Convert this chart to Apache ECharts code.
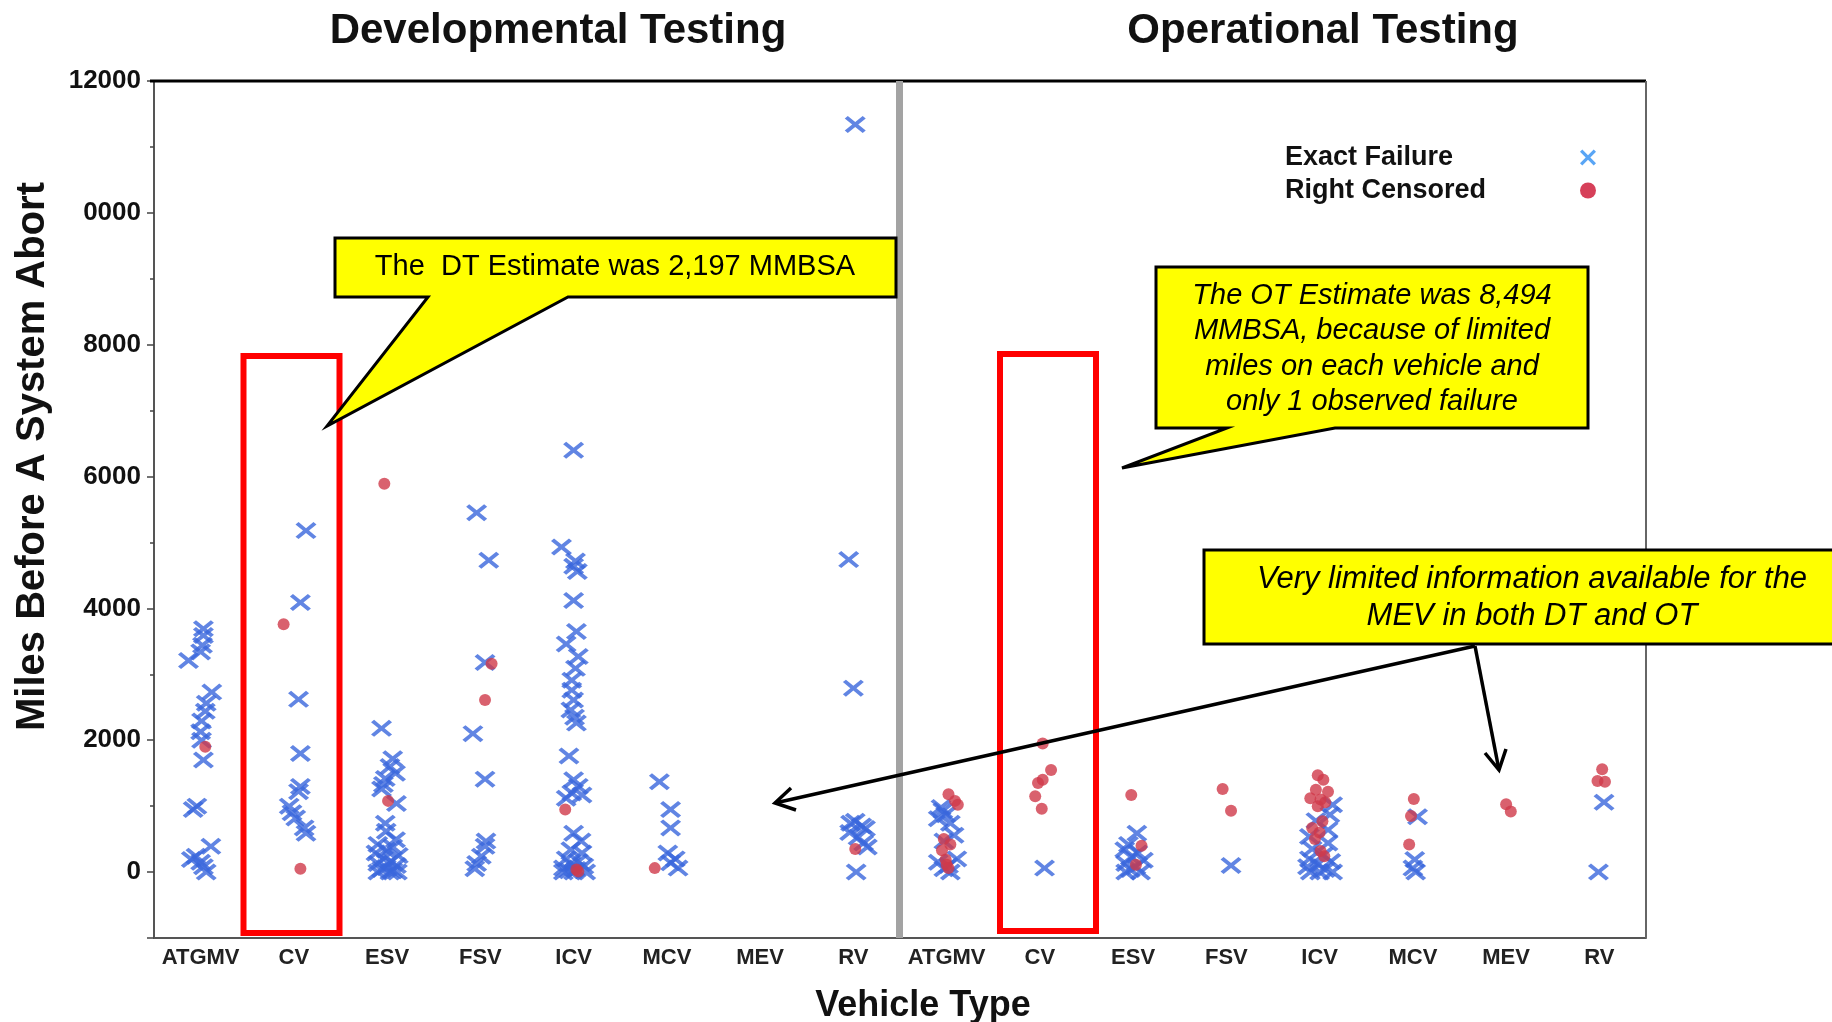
<!DOCTYPE html>
<html>
<head>
<meta charset="utf-8">
<script src="https://cdn.jsdelivr.net/npm/echarts@6/dist/echarts.min.js"></script>
<style>
html,body{margin:0;padding:0;background:#ffffff;}
#chart{width:1832px;height:1022px;}
</style>
</head>
<body>
<div id="chart"></div>
<script>
// ---------------- DATA ----------------
const vehicleTypes = ['ATGMV', 'CV', 'ESV', 'FSV', 'ICV', 'MCV', 'MEV', 'RV'];
const phaseTitles = ['Developmental Testing', 'Operational Testing'];
const seriesNames = ['Exact Failure', 'Right Censored'];

// [vehicle type, miles before a system abort, horizontal jitter (fraction of a category)]
const dtExactFailure = [
  ['ATGMV',3690,0.03],['ATGMV',3590,0.03],['ATGMV',3440,0.02],['ATGMV',3340,0.00],['ATGMV',3210,-0.13],
  ['ATGMV',2730,0.12],['ATGMV',2560,0.06],['ATGMV',2440,0.05],['ATGMV',2290,0.01],['ATGMV',2130,0.00],
  ['ATGMV',2000,0.01],['ATGMV',1700,0.03],['ATGMV',1000,-0.04],['ATGMV',950,-0.08],['ATGMV',390,0.11],
  ['ATGMV',240,-0.05],['ATGMV',190,-0.10],['ATGMV',150,0.00],['ATGMV',80,0.03],['ATGMV',0,0.06],
  ['CV',5180,0.13],['CV',4090,0.07],['CV',2620,0.05],['CV',1800,0.07],['CV',1300,0.07],['CV',1220,0.05],
  ['CV',1000,-0.05],['CV',900,-0.02],['CV',820,0.02],['CV',670,0.11],['CV',590,0.13],
  ['ESV',2180,-0.06],['ESV',1720,0.06],['ESV',1600,0.03],['ESV',1500,0.09],['ESV',1420,-0.02],
  ['ESV',1330,-0.04],['ESV',1260,-0.06],['ESV',1040,0.10],['ESV',740,-0.02],['ESV',620,-0.01],
  ['ESV',490,0.09],['ESV',420,-0.10],['ESV',380,0.06],['ESV',330,-0.01],['ESV',290,-0.12],
  ['ESV',250,0.12],['ESV',200,-0.04],['ESV',160,0.04],['ESV',130,-0.10],['ESV',100,0.10],
  ['ESV',70,-0.01],['ESV',40,-0.06],['ESV',20,0.06],['ESV',0,-0.10],['ESV',0,0.03],['ESV',0,0.11],
  ['FSV',5450,-0.04],['FSV',4730,0.09],['FSV',3180,0.05],['FSV',2100,-0.08],['FSV',1410,0.05],
  ['FSV',470,0.06],['FSV',390,0.05],['FSV',240,0.01],['FSV',130,-0.04],['FSV',50,-0.06],
  ['ICV',6400,0.00],['ICV',4930,-0.13],['ICV',4720,0.02],['ICV',4640,0.00],['ICV',4560,0.04],
  ['ICV',4120,0.00],['ICV',3650,0.03],['ICV',3460,-0.08],['ICV',3270,0.05],['ICV',3090,0.02],
  ['ICV',2910,-0.02],['ICV',2760,-0.02],['ICV',2610,0.00],['ICV',2460,-0.03],['ICV',2350,0.01],
  ['ICV',2260,0.03],['ICV',1760,-0.05],['ICV',1400,0.00],['ICV',1300,0.05],['ICV',1200,-0.02],
  ['ICV',1170,0.09],['ICV',1120,-0.08],['ICV',590,0.00],['ICV',470,0.08],['ICV',340,-0.03],
  ['ICV',290,0.09],['ICV',200,-0.08],['ICV',160,0.05],['ICV',120,-0.03],['ICV',90,0.11],
  ['ICV',60,-0.11],['ICV',40,0.03],['ICV',20,-0.05],['ICV',0,-0.11],['ICV',0,0.00],['ICV',0,0.13],
  ['MCV',1370,-0.08],['MCV',950,0.04],['MCV',670,0.04],['MCV',290,0.01],['MCV',200,0.09],
  ['MCV',140,0.04],['MCV',60,0.12],
  ['RV',11340,0.02],['RV',4740,-0.05],['RV',2790,0.00],['RV',770,0.02],['RV',740,-0.03],
  ['RV',700,0.09],['RV',660,0.13],['RV',600,-0.04],['RV',530,0.05],['RV',440,0.11],
  ['RV',380,0.15],['RV',0,0.03]
];
const dtRightCensored = [
  ['ATGMV',1900,0.05],
  ['CV',3760,-0.11],['CV',50,0.07],
  ['ESV',5890,-0.03],['ESV',1080,0.01],
  ['FSV',3160,0.12],['FSV',2610,0.05],
  ['ICV',950,-0.09],['ICV',40,0.03],['ICV',10,0.05],
  ['MCV',60,-0.13],
  ['RV',350,0.02]
];
const otExactFailure = [
  ['ATGMV',980,-0.06],['ATGMV',930,-0.04],['ATGMV',870,-0.01],['ATGMV',810,-0.09],['ATGMV',740,0.04],
  ['ATGMV',560,0.08],['ATGMV',470,-0.03],['ATGMV',200,0.11],['ATGMV',150,-0.09],['ATGMV',100,0.02],
  ['ATGMV',50,-0.03],['ATGMV',0,0.04],
  ['CV',60,0.05],
  ['ESV',590,0.04],['ESV',420,-0.05],['ESV',340,-0.09],['ESV',290,0.05],['ESV',230,-0.02],
  ['ESV',180,0.11],['ESV',130,-0.08],['ESV',80,0.03],['ESV',40,-0.03],['ESV',0,-0.08],['ESV',0,0.08],
  ['FSV',100,0.05],
  ['ICV',1020,0.14],['ICV',870,0.11],['ICV',780,-0.04],['ICV',640,0.09],['ICV',540,-0.11],
  ['ICV',440,0.09],['ICV',350,-0.08],['ICV',260,0.04],['ICV',200,-0.11],['ICV',160,0.12],
  ['ICV',120,-0.02],['ICV',80,-0.13],['ICV',40,0.06],['ICV',0,-0.10],['ICV',0,0.00],['ICV',0,0.14],
  ['MCV',840,0.05],['MCV',190,0.02],['MCV',60,0.00],['MCV',0,0.03],
  ['RV',1060,0.05],['RV',0,-0.01]
];
const otRightCensored = [
  ['ATGMV',1180,0.02],['ATGMV',1080,0.09],['ATGMV',1020,0.12],['ATGMV',500,-0.03],['ATGMV',420,0.04],
  ['ATGMV',330,-0.05],['ATGMV',190,-0.01],['ATGMV',110,0.00],['ATGMV',60,0.02],
  ['CV',1950,0.03],['CV',1550,0.12],['CV',1400,0.03],['CV',1350,-0.02],['CV',1150,-0.05],['CV',960,0.02],
  ['ESV',1170,-0.02],['ESV',400,0.09],['ESV',110,0.03],
  ['FSV',1260,-0.04],['FSV',930,0.05],
  ['ICV',1470,-0.02],['ICV',1400,0.04],['ICV',1250,-0.04],['ICV',1220,0.09],['ICV',1120,-0.10],
  ['ICV',1100,0.01],['ICV',1060,0.06],['ICV',1000,-0.02],['ICV',770,0.03],['ICV',670,-0.08],
  ['ICV',600,0.00],['ICV',500,-0.05],['ICV',320,0.01],['ICV',240,0.05],
  ['MCV',1110,0.01],['MCV',850,-0.02],['MCV',420,-0.04],
  ['MEV',1030,0.00],['MEV',920,0.05],
  ['RV',1560,0.03],['RV',1380,-0.02],['RV',1370,0.06]
];
const yAxisRange = [-1000, 12000];

// ---------------- BUILD ----------------
const FONT = '"Liberation Sans", Arial, Helvetica, sans-serif';
const xLabels = vehicleTypes.concat(vehicleTypes);
function toPoints(rows, phaseIndex) {
  return rows.map(r => [phaseIndex * vehicleTypes.length + vehicleTypes.indexOf(r[0]) + 0.5 + r[2], r[1]]);
}
const exactData = toPoints(dtExactFailure, 0).concat(toPoints(otExactFailure, 1));
const censoredData = toPoints(dtRightCensored, 0).concat(toPoints(otRightCensored, 1));

const crossPath = 'path://M2.9,0 L10,7.1 L17.1,0 L20,2.9 L12.9,10 L20,17.1 L17.1,20 L10,12.9 L2.9,20 L0,17.1 L7.1,10 L0,2.9 Z';

const GL = 154, GR = 1646, GT = 81, GB = 938;

const chart = echarts.init(document.getElementById('chart'), null, {renderer: 'canvas'});
const option = {
  animation: false,
  backgroundColor: '#ffffff',
  title: [
    {text: phaseTitles[0], left: 553, top: 5, textAlign: 'center',
     textStyle: {fontFamily: FONT, fontSize: 42, fontWeight: 'bold', color: '#111'}},
    {text: phaseTitles[1], left: 1318, top: 5, textAlign: 'center',
     textStyle: {fontFamily: FONT, fontSize: 42, fontWeight: 'bold', color: '#111'}}
  ],
  legend: {
    orient: 'vertical', left: 1280, top: 139, align: 'right',
    itemWidth: 20, itemHeight: 16, itemGap: 6, selectedMode: false,
    data: [
      {name: seriesNames[0], icon: crossPath, itemStyle: {color: '#2f8ef2'}},
      {name: seriesNames[1], icon: 'circle', itemStyle: {color: '#cc1030'}}
    ],
    formatter: '{t|{name}}',
    textStyle: {rich: {t: {width: 288, align: 'left', fontFamily: FONT, fontSize: 27, fontWeight: 'bold', color: '#111'}}}
  },
  grid: {left: GL, right: 1832 - GR, top: GT, bottom: 1022 - GB, containLabel: false, outerBoundsMode: 'none'},
  xAxis: [
    {
      type: 'category', data: xLabels, boundaryGap: true, gridIndex: 0,
      axisLine: {show: true, onZero: false, lineStyle: {color: '#555', width: 2}},
      axisTick: {show: false},
      axisLabel: {interval: 0, margin: 9, fontFamily: FONT, fontSize: 22, fontWeight: 'bold', color: '#222'},
      splitLine: {show: false},
      name: 'Vehicle Type', nameLocation: 'middle', nameGap: 50,
      nameTextStyle: {fontFamily: FONT, fontSize: 36, fontWeight: 'bold', color: '#111', padding: [0, 0, 0, 46]}
    },
    {type: 'value', min: 0, max: 16, show: false, gridIndex: 0}
  ],
  yAxis: {
    type: 'value', min: yAxisRange[0], max: yAxisRange[1], splitNumber: 6,
    minInterval: 2000, maxInterval: 2000,
    axisLine: {show: true, onZero: false, lineStyle: {color: '#555', width: 2}},
    axisTick: {show: true, length: 7, lineStyle: {color: '#444', width: 1.5}},
    minorTick: {show: true, splitNumber: 2, length: 4, lineStyle: {color: '#444', width: 1.5}},
    splitLine: {show: false},
    axisLabel: {
      margin: 13, fontFamily: FONT, fontSize: 26, fontWeight: 'bold', color: '#111',
      formatter: v => (v < 0 ? '' : (v === 10000 ? '0000' : String(v)))
    },
    name: 'Miles Before A System Abort', nameLocation: 'middle', nameGap: 101,
    nameTextStyle: {fontFamily: FONT, fontSize: 40, fontWeight: 'bold', color: '#111', padding: [0, 0, 0, 106]}
  },
  series: [
    {
      name: seriesNames[0], type: 'scatter', xAxisIndex: 1, yAxisIndex: 0,
      symbol: crossPath, symbolSize: [21, 17],
      itemStyle: {color: '#3a66dc'}, data: exactData, z: 3
    },
    {
      name: seriesNames[1], type: 'scatter', xAxisIndex: 1, yAxisIndex: 0,
      symbol: 'circle', symbolSize: 12,
      itemStyle: {color: '#d03a4a'}, data: censoredData, z: 4
    }
  ],
  graphic: [
    // frame: top and right borders, phase divider
    {type: 'line', shape: {x1: 150, y1: GT, x2: GR, y2: GT}, style: {stroke: '#000', lineWidth: 3}, z: 5},
    {type: 'line', shape: {x1: GR, y1: GT, x2: GR, y2: GB}, style: {stroke: '#666', lineWidth: 2}, z: 5},
    {type: 'rect', shape: {x: 896, y: GT, width: 7, height: GB - GT}, style: {fill: '#a3a3a3'}, z: 5},
    // red highlight boxes around CV
    {type: 'rect', shape: {x: 243.5, y: 356, width: 96, height: 577}, style: {fill: 'none', stroke: '#ff0000', lineWidth: 6}, z: 6},
    {type: 'rect', shape: {x: 1000, y: 354, width: 96, height: 577}, style: {fill: 'none', stroke: '#ff0000', lineWidth: 6}, z: 6},
    // DT callout
    {type: 'polygon', shape: {points: [[335,238],[896,238],[896,297],[568,297],[327,426],[428,297],[335,297]]},
     style: {fill: '#ffff00', stroke: '#000', lineWidth: 3, lineJoin: 'miter'}, z: 20},
    {type: 'text', x: 615, y: 267, z: 21,
     style: {text: 'The  DT Estimate was 2,197 MMBSA', fontFamily: FONT, fontSize: 29, fill: '#000', align: 'center', verticalAlign: 'middle'}},
    // OT callout
    {type: 'polygon', shape: {points: [[1156,267],[1588,267],[1588,428],[1335,428],[1122,468],[1227,428],[1156,428]]},
     style: {fill: '#ffff00', stroke: '#000', lineWidth: 3, lineJoin: 'miter'}, z: 20},
    {type: 'text', x: 1372, y: 349, z: 21,
     style: {text: 'The OT Estimate was 8,494\nMMBSA, because of limited\nmiles on each vehicle and\nonly 1 observed failure',
             fontFamily: FONT, fontSize: 29, fontStyle: 'italic', lineHeight: 35.5, fill: '#000', align: 'center', verticalAlign: 'middle'}},
    // MEV callout and arrows
    {type: 'line', shape: {x1: 1475, y1: 646, x2: 775, y2: 803}, style: {stroke: '#000', lineWidth: 3.5}, z: 19},
    {type: 'polyline', shape: {points: [[791,788],[775,803],[796,810]]}, style: {stroke: '#000', lineWidth: 3.5, fill: null}, z: 19},
    {type: 'line', shape: {x1: 1475, y1: 646, x2: 1499, y2: 770}, style: {stroke: '#000', lineWidth: 3.5}, z: 19},
    {type: 'polyline', shape: {points: [[1485,753],[1499,770],[1506,749]]}, style: {stroke: '#000', lineWidth: 3.5, fill: null}, z: 19},
    {type: 'rect', shape: {x: 1204, y: 550, width: 660, height: 94}, style: {fill: '#ffff00', stroke: '#000', lineWidth: 3}, z: 20},
    {type: 'text', x: 1532, y: 598, z: 21,
     style: {text: 'Very limited information available for the\nMEV in both DT and OT',
             fontFamily: FONT, fontSize: 31, fontStyle: 'italic', lineHeight: 37.5, fill: '#000', align: 'center', verticalAlign: 'middle'}}
  ]
};
chart.setOption(option);
</script>
</body>
</html>
